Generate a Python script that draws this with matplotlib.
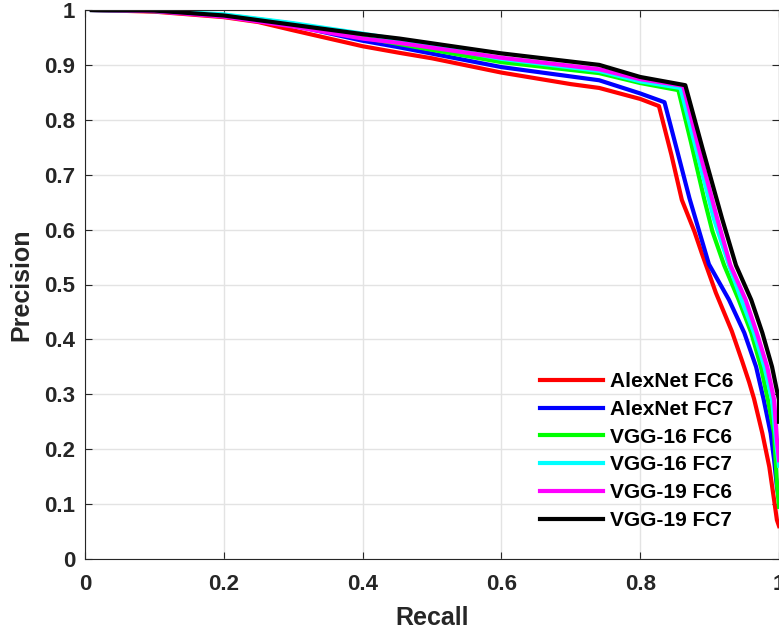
import matplotlib
matplotlib.use('Agg')
import matplotlib.pyplot as plt

# ------------------------------------------------------------------
# Data
# ------------------------------------------------------------------
labels = ['AlexNet FC6', 'AlexNet FC7', 'VGG-16 FC6', 'VGG-16 FC7', 'VGG-19 FC6', 'VGG-19 FC7']
colors = ['#ff0000', '#0000ff', '#00ff00', '#00ffff', '#ff00ff', '#000000']

alex6_r = [0.01, 0.1, 0.2, 0.25, 0.3, 0.4, 0.453, 0.5, 0.6, 0.7, 0.741, 0.8, 0.827, 0.845, 0.860,
           0.878, 0.889, 0.909, 0.932, 0.947, 0.957, 0.964, 0.976, 0.986, 0.993, 0.997, 1.0]
alex6_p = [1.0, 0.997, 0.987, 0.978, 0.963, 0.934, 0.922, 0.912, 0.886, 0.865, 0.858, 0.838, 0.825,
           0.736, 0.654, 0.597, 0.556, 0.485, 0.415, 0.36, 0.322, 0.292, 0.229, 0.168, 0.107, 0.071, 0.06]

alex7_r = [0.01, 0.1, 0.2, 0.3, 0.4, 0.453, 0.6, 0.741, 0.8, 0.835, 0.853, 0.871, 0.885, 0.899,
           0.928, 0.950, 0.967, 0.978, 0.988, 0.993, 0.997, 1.0]
alex7_p = [1.0, 0.998, 0.99, 0.972, 0.944, 0.932, 0.896, 0.872, 0.848, 0.832, 0.745, 0.657, 0.597,
           0.537, 0.472, 0.412, 0.35, 0.29, 0.229, 0.18, 0.131, 0.11]

vgg16_6_r = [0.01, 0.1, 0.2, 0.3, 0.4, 0.453, 0.6, 0.741, 0.8, 0.855, 0.873, 0.892, 0.904, 0.921,
             0.942, 0.960, 0.974, 0.984, 0.993, 0.997, 1.0]
vgg16_6_p = [1.0, 0.998, 0.991, 0.975, 0.95, 0.938, 0.905, 0.885, 0.867, 0.854, 0.76, 0.657, 0.597,
             0.535, 0.472, 0.412, 0.35, 0.29, 0.229, 0.138, 0.095]

vgg16_7_r = [0.01, 0.1, 0.2, 0.3, 0.4, 0.453, 0.6, 0.741, 0.8, 0.858, 0.882, 0.906, 0.928, 0.946,
             0.964, 0.979, 0.99, 0.997, 1.0]
vgg16_7_p = [1.0, 0.999, 0.992, 0.976, 0.957, 0.946, 0.911, 0.889, 0.870, 0.858, 0.74, 0.62, 0.535,
             0.472, 0.412, 0.35, 0.29, 0.2, 0.17]

vgg19_6_r = [0.01, 0.1, 0.2, 0.3, 0.4, 0.453, 0.6, 0.741, 0.8, 0.862, 0.886, 0.911, 0.93, 0.952,
             0.968, 0.983, 0.993, 0.997, 1.0]
vgg19_6_p = [1.0, 0.998, 0.988, 0.970, 0.948, 0.940, 0.913, 0.892, 0.874, 0.862, 0.74, 0.62, 0.535,
             0.472, 0.412, 0.35, 0.29, 0.217, 0.18]

vgg19_7_r = [0.01, 0.1, 0.2, 0.3, 0.4, 0.453, 0.6, 0.741, 0.8, 0.865, 0.89, 0.918, 0.938, 0.96,
             0.976, 0.99, 0.996, 1.0, 1.0]
vgg19_7_p = [1.0, 0.999, 0.99, 0.973, 0.956, 0.948, 0.921, 0.900, 0.878, 0.863, 0.747, 0.62, 0.535,
             0.472, 0.412, 0.35, 0.313, 0.29, 0.25]

recalls = [alex6_r, alex7_r, vgg16_6_r, vgg16_7_r, vgg19_6_r, vgg19_7_r]
precisions = [alex6_p, alex7_p, vgg16_6_p, vgg16_7_p, vgg19_6_p, vgg19_7_p]

x_ticks = [0, 0.2, 0.4, 0.6, 0.8, 1]
x_ticklabels = ['0', '0.2', '0.4', '0.6', '0.8', '1']
y_ticks = [0, 0.1, 0.2, 0.3, 0.4, 0.5, 0.6, 0.7, 0.8, 0.9, 1]
y_ticklabels = ['0', '0.1', '0.2', '0.3', '0.4', '0.5', '0.6', '0.7', '0.8', '0.9', '1']

# ------------------------------------------------------------------
# Plot
# ------------------------------------------------------------------
plt.rcParams['font.family'] = ['Liberation Sans', 'DejaVu Sans']
plt.rcParams['font.weight'] = 'bold'

fig = plt.figure(figsize=(7.79, 6.33), dpi=100)
ax = fig.add_axes([85 / 779, 74 / 633, 694 / 779, 549 / 633])

for r, p, c, lab in zip(recalls, precisions, colors, labels):
    ax.plot(r, p, color=c, linewidth=3, label=lab)

ax.set_xlim(0, 1)
ax.set_ylim(0, 1)
ax.set_xticks(x_ticks)
ax.set_xticklabels(x_ticklabels)
ax.set_yticks(y_ticks)
ax.set_yticklabels(y_ticklabels)

ax.grid(True, color='#e3e3e3', linewidth=1.0)
ax.set_axisbelow(True)
ax.tick_params(direction='in', top=True, right=True, length=5, width=0.8,
               colors='#262626', labelsize=16, labelcolor='#262626')
ax.tick_params(axis='x', pad=11)
ax.tick_params(axis='y', pad=7)
for s in ax.spines.values():
    s.set_color('#262626')
    s.set_linewidth(0.8)

ax.set_xlabel('Recall', fontsize=18, fontweight='bold', color='#262626', labelpad=8)
ax.set_ylabel('Precision', fontsize=18, fontweight='bold', color='#262626', labelpad=8)

leg = ax.legend(loc='lower left', bbox_to_anchor=(540 / 779, 103 / 633), bbox_transform=fig.transFigure,
                frameon=False, fontsize=15, handlelength=3.0, handletextpad=0.35,
                labelspacing=0.42, borderpad=0, borderaxespad=0)
for t in leg.get_texts():
    t.set_color('#000000')
    t.set_fontweight('bold')

fig.savefig('out.png', dpi=100)
